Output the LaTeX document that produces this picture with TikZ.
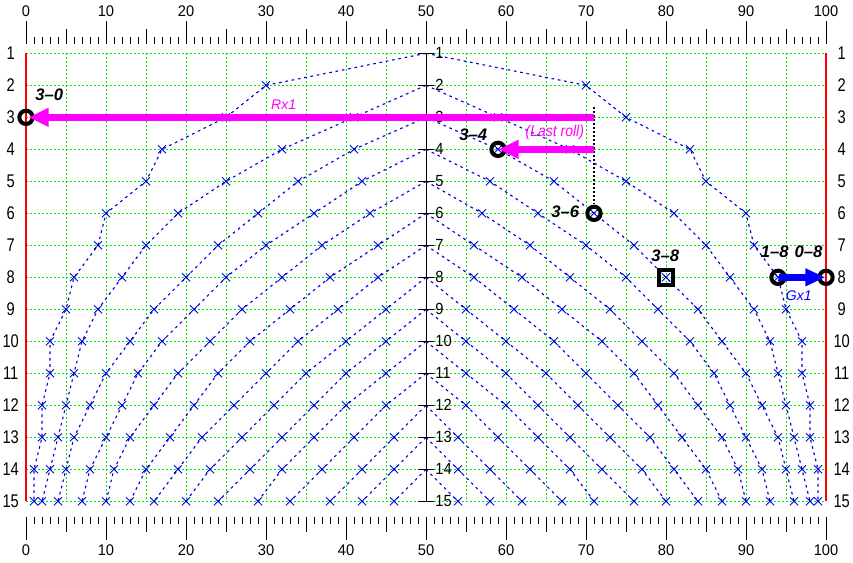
\documentclass[tikz,border=0pt]{standalone}
\usepackage{fontspec}
\setmainfont{Liberation Sans}
\usetikzlibrary{arrows.meta,shapes.misc}
\definecolor{gridgreen}{RGB}{0,225,0}
\definecolor{curveblue}{RGB}{0,0,225}
\definecolor{arrowblue}{RGB}{0,0,255}
\definecolor{magA}{RGB}{255,0,255}
\begin{document}
\begin{tikzpicture}[x=0.75pt,y=-0.75pt,
  gridline/.style={gridgreen,line width=0.75pt,dash pattern=on 1.5pt off 1.5pt},
  redline/.style={red,line width=1.6pt},
  tickline/.style={black,line width=0.75pt},
  numlab/.style={font=\fontsize{11}{11}\selectfont,inner sep=0pt,yscale=1.05},
  rowlab/.style={font=\fontsize{11}{11}\selectfont,inner sep=0pt,yscale=1.25},
  axlab/.style={font=\fontsize{11}{11}\selectfont,inner sep=0pt,yscale=1.1,anchor=west},
  curve/.style={curveblue,line width=0.85pt,dash pattern=on 2pt off 2.8pt},
  xmark/.style={cross out,draw=curveblue,line width=0.65pt,minimum size=5.4pt,inner sep=0pt},
  ring/.style={black,line width=3pt},
  sqbox/.style={black,line width=3pt},
  marrow/.style={magA,line width=4.9pt,-{Triangle[length=15pt,width=13.3pt]}},
  barrow/.style={arrowblue,line width=5.6pt,-{Triangle[length=15pt,width=12.5pt]}},
  dotline/.style={black,line width=2pt,dash pattern=on 1.5pt off 1.5pt},
  poslab/.style={font=\fontsize{12.5}{12.5}\selectfont\bfseries\itshape,inner sep=0pt},
  maglab/.style={magA,font=\fontsize{10.5}{10.5}\selectfont\itshape,inner sep=0pt},
  bluelab/.style={arrowblue,font=\fontsize{10.5}{10.5}\selectfont\itshape,inner sep=0pt}]
\fill[white] (0,0) rectangle (853,563);
\useasboundingbox (0,0) rectangle (853,563);
\begin{scope}[shift={(26,21.333)},x=6pt,y=-24pt]
% green grid
\foreach \v in {5,10,...,95} \draw[gridline] (\v,1) -- (\v,15);
\foreach \r in {1,...,15} \draw[gridline] (0,\r) -- (100,\r);
% red borders
\draw[redline] (0,1) -- (0,15);
\draw[redline] (100,1) -- (100,15);
% rulers
\foreach \v in {0,...,100} {
  \draw[tickline] (\v,0.708) -- (\v,0.480);
  \draw[tickline] (\v,15.479) -- (\v,15.708);
}
\foreach \v in {5,15,...,95} {
  \draw[tickline] (\v,0.708) -- (\v,0.249);
  \draw[tickline] (\v,15.479) -- (\v,15.958);
}
\foreach \v in {0,10,...,100} {
  \draw[tickline] (\v,0.708) -- (\v,-0.021);
  \draw[tickline] (\v,15.479) -- (\v,16.208);
  \node[numlab] (top\v) at (\v,-0.302) {\v};
  \node[numlab] (bot\v) at (\v,16.52) {\v};
}
\foreach \r in {1,...,15} {
  \node[rowlab] (lrow\r) at (-1.91,\r) {\r};
  \node[rowlab] (rrow\r) at (101.96,\r) {\r};
}
% curves
\foreach \j/\vals in {
  1/{30,25,17,15,10,9,6,5,3,3,2,2,1,1},
  2/{41,32,25,19,15,12,9,7,6,5,4,3,2},
  3/{41,34,29,24,20,16,13,10,8,6,5,4},
  4/{42,36,30,25,21,17,14,12,10,8,7},
  5/{43,37,32,27,23,19,16,13,11,10},
  6/{44,38,33,28,24,21,18,15,13},
  7/{44,39,34,30,26,22,19,16},
  8/{45,40,35,31,27,23,20},
  9/{45,40,36,32,28,24},
  10/{45,40,36,32,29},
  11/{45,41,37,33},
  12/{46,42,38},
  13/{46,42},
  14/{46}} {
  \draw[curve] (50,\j) \foreach \v [count=\r] in \vals { -- (\v,\r+\j) };
  \draw[curve] (50,\j) \foreach \v [count=\r] in \vals { -- (100-\v,\r+\j) };
  \foreach \v [count=\r] in \vals {
    \node[xmark] (mL-\j-\r) at (\v,\r+\j) {};
    \node[xmark] (mR-\j-\r) at (100-\v,\r+\j) {};
  }
}
% centre axis
\draw[tickline] (50,1) -- (50,15);
\foreach \r in {1,...,15} {
  \draw[tickline] (49,\r) -- (51,\r);
  \node[axlab] (cax\r) at (51.15,\r) {\r};
}
% key points
\coordinate (p30) at (0,3);
\coordinate (p34) at (59,4);
\coordinate (p36) at (71,6);
\coordinate (p38) at (80,8);
\coordinate (p18) at (94,8);
\coordinate (p08) at (100,8);
\coordinate (r3) at (71,3);
\coordinate (r4) at (71,4);
\coordinate (dtop) at (71,2.67);
\coordinate (dbot) at (71,5.72);
\draw[dotline] (dtop) -- (dbot);
\draw[ring] (p30) circle[radius=5pt];
\draw[ring] (p34) circle[radius=5pt];
\draw[ring] (p36) circle[radius=5pt];
\draw[ring] (p18) circle[radius=5pt];
\draw[ring] (p08) circle[radius=5pt];
\draw[sqbox] ([shift={(-5.6pt,-5.6pt)}]p38) rectangle ([shift={(5.6pt,5.6pt)}]p38);
% arrows
\draw[marrow] (r3) -- ([xshift=2pt]p30);
\draw[marrow] (r4) -- ([xshift=0.4pt]p34);
\draw[barrow] ([xshift=1pt]p18) -- ([xshift=-0.5pt]p08);
% labels
\node[poslab] (l30) at (2.9,2.3) {3–0};
\node[poslab] (l34) at (55.9,3.55) {3–4};
\node[poslab] (l36) at (67.4,5.96) {3–6};
\node[poslab] (l38) at (79.9,7.33) {3–8};
\node[poslab] (l18) at (93.6,7.2) {1–8};
\node[poslab] (l08) at (97.8,7.2) {0–8};
\node[maglab] (lrx) at (32.2,2.59) {Rx1};
\node[maglab,yscale=1.12] (llr) at (66.1,3.48) {(Last roll)};
\node[bluelab] (lgx) at (96.6,8.57) {Gx1};
\end{scope}
\end{tikzpicture}
\end{document}
